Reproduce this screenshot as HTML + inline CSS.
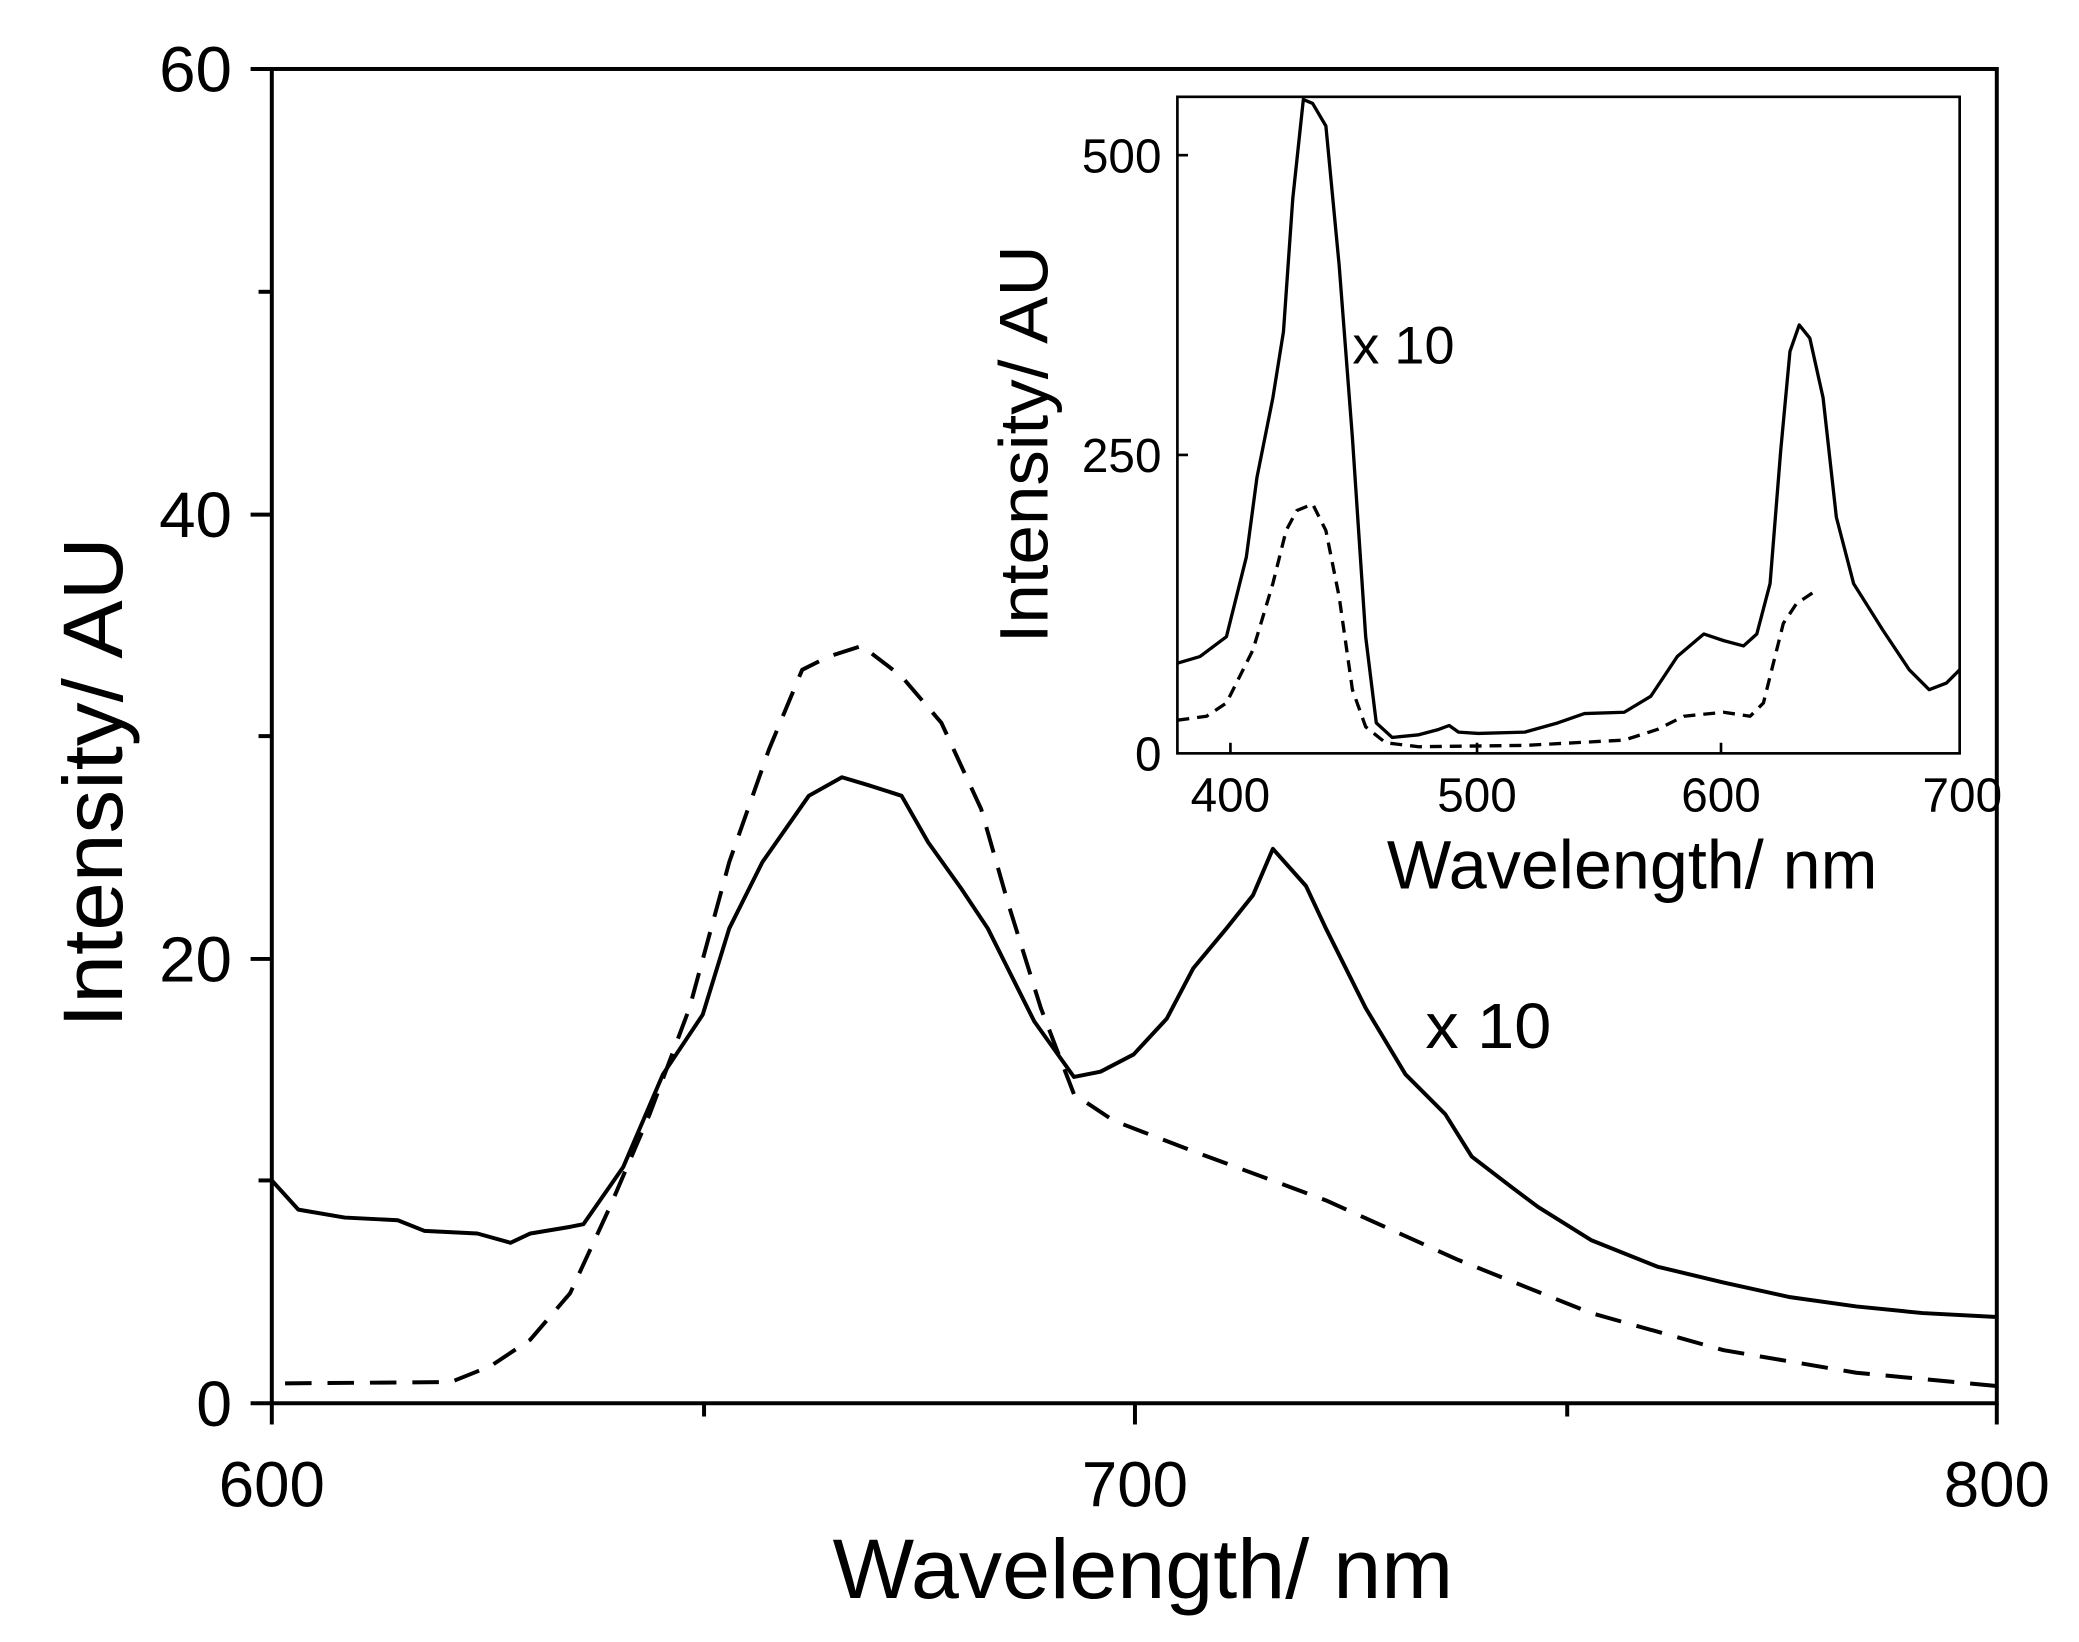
<!DOCTYPE html>
<html><head><style>html,body{margin:0;padding:0;background:#fff;}svg{display:block}</style></head>
<body>
<svg width="2079" height="1642" viewBox="0 0 1568 1238" preserveAspectRatio="none" xmlns="http://www.w3.org/2000/svg" font-family="Liberation Sans, Arial, sans-serif">
<rect width="1568" height="1238" fill="#fff"/>
<rect x="205" y="52" width="1301" height="1006" fill="none" stroke="#000" stroke-width="3"/>
<g stroke="#000" stroke-width="3">
<line x1="205" y1="1058" x2="205" y2="1074"/><line x1="531" y1="1058" x2="531" y2="1068"/>
<line x1="856" y1="1058" x2="856" y2="1074"/><line x1="1182" y1="1058" x2="1182" y2="1068"/>
<line x1="1506" y1="1058" x2="1506" y2="1074"/>
<line x1="189" y1="1058" x2="205" y2="1058"/><line x1="195" y1="890" x2="205" y2="890"/>
<line x1="189" y1="723" x2="205" y2="723"/><line x1="195" y1="555" x2="205" y2="555"/>
<line x1="189" y1="388" x2="205" y2="388"/><line x1="195" y1="220" x2="205" y2="220"/>
<line x1="189" y1="52" x2="205" y2="52"/>
</g>
<g font-size="48" fill="#000" lengthAdjust="spacingAndGlyphs">
<text x="165" y="1136" textLength="80" lengthAdjust="spacingAndGlyphs">600</text>
<text x="816" y="1136" textLength="80" lengthAdjust="spacingAndGlyphs">700</text>
<text x="1466" y="1136" textLength="80" lengthAdjust="spacingAndGlyphs">800</text>
<text x="148" y="1075" textLength="27" lengthAdjust="spacingAndGlyphs">0</text>
<text x="120" y="740" textLength="55" lengthAdjust="spacingAndGlyphs">20</text>
<text x="120" y="405" textLength="55" lengthAdjust="spacingAndGlyphs">40</text>
<text x="120" y="69" textLength="55" lengthAdjust="spacingAndGlyphs">60</text>
</g>
<text x="628" y="1205" font-size="64" textLength="468" lengthAdjust="spacingAndGlyphs">Wavelength/ nm</text>
<text transform="translate(92,775) rotate(-90)" font-size="64" textLength="370" lengthAdjust="spacingAndGlyphs">Intensity/ AU</text>
<text x="1075" y="790" font-size="48" textLength="95" lengthAdjust="spacingAndGlyphs">x 10</text>
<polyline fill="none" stroke="#000" stroke-width="3" stroke-linejoin="round" points="205,890 225,912 260,918 300,920 320,928 360,930 385,937 400,930 430,925 440,923 470,880 500,810 530,765 550,700 575,650 610,600 635,586 655,592 680,600 700,635 725,670 745,700 760,730 780,770 810,812 830,808 855,795 880,768 900,730 925,700 945,675 960,640 985,668 1000,700 1030,760 1060,810 1090,840 1110,872 1140,895 1160,910 1200,935 1250,955 1300,967 1350,978 1400,985 1450,990 1506,993"/>
<polyline fill="none" stroke="#000" stroke-width="3" stroke-dasharray="20,12" stroke-linejoin="round" points="215,1043 340,1042 370,1030 400,1010 430,975 460,910 490,840 520,760 550,650 580,565 605,505 625,495 650,487 680,510 710,545 740,610 760,680 785,760 810,825 840,845 900,868 1000,905 1100,950 1200,990 1300,1018 1400,1035 1506,1045"/>
<rect x="888" y="73" width="590" height="495" fill="none" stroke="#000" stroke-width="2"/>
<g stroke="#000" stroke-width="2">
<line x1="928" y1="568" x2="928" y2="560"/><line x1="1114" y1="568" x2="1114" y2="560"/>
<line x1="1298" y1="568" x2="1298" y2="560"/>
<line x1="888" y1="343" x2="896" y2="343"/><line x1="888" y1="117" x2="896" y2="117"/>
</g>
<g font-size="36" fill="#000">
<text x="898" y="612" textLength="60" lengthAdjust="spacingAndGlyphs">400</text>
<text x="1084" y="612" textLength="60" lengthAdjust="spacingAndGlyphs">500</text>
<text x="1268" y="612" textLength="60" lengthAdjust="spacingAndGlyphs">600</text>
<text x="1450" y="612" textLength="60" lengthAdjust="spacingAndGlyphs">700</text>
<text x="856" y="581" textLength="20" lengthAdjust="spacingAndGlyphs">0</text>
<text x="816" y="356" textLength="60" lengthAdjust="spacingAndGlyphs">250</text>
<text x="816" y="130" textLength="60" lengthAdjust="spacingAndGlyphs">500</text>
</g>
<text x="1046" y="670" font-size="52" textLength="370" lengthAdjust="spacingAndGlyphs">Wavelength/ nm</text>
<text transform="translate(790,485) rotate(-90)" font-size="52" textLength="300" lengthAdjust="spacingAndGlyphs">Intensity/ AU</text>
<text x="1020" y="274" font-size="40" textLength="77" lengthAdjust="spacingAndGlyphs">x 10</text>
<polyline fill="none" stroke="#000" stroke-width="2.5" stroke-linejoin="round" points="888,500 905,495 925,480 940,420 948,360 960,300 968,250 975,150 983,75 990,78 1000,95 1010,200 1020,330 1030,480 1038,545 1050,556 1070,554 1085,550 1093,547 1100,552 1115,553 1150,552 1175,545 1195,538 1225,537 1245,525 1265,495 1285,478 1300,483 1315,487 1325,478 1335,440 1343,340 1350,265 1357,245 1365,255 1375,300 1385,390 1398,440 1420,475 1440,505 1455,520 1468,515 1478,505"/>
<polyline fill="none" stroke="#000" stroke-width="2.5" stroke-dasharray="9,6" stroke-linejoin="round" points="888,543 910,540 925,530 945,490 960,440 970,400 978,385 990,380 1000,400 1010,450 1020,520 1030,548 1045,560 1070,563 1150,562 1225,558 1250,550 1270,540 1300,537 1320,540 1330,530 1345,470 1355,455 1370,445"/>
</svg>
</body></html>
